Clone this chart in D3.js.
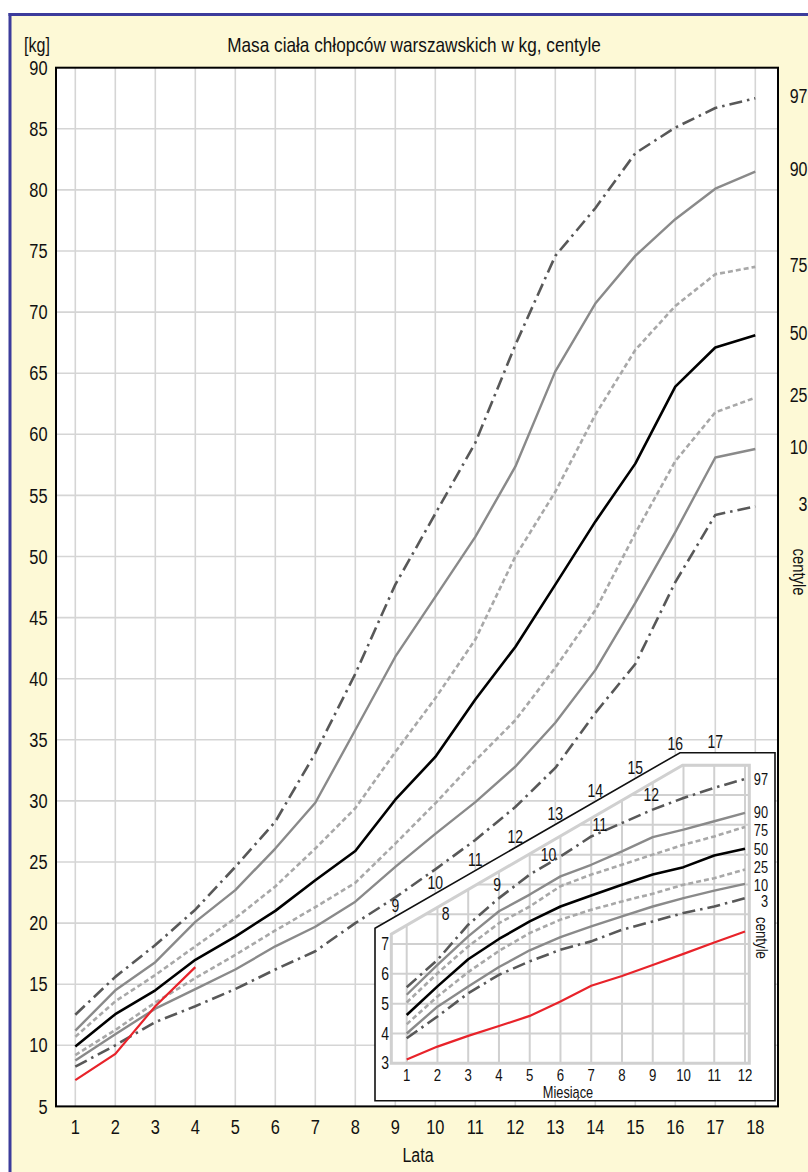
<!DOCTYPE html>
<html><head><meta charset="utf-8">
<script src="https://cdn.jsdelivr.net/npm/d3@7"></script>
<style>
body{margin:0;background:#fff}
svg{display:block}
text{font-family:"Liberation Sans",Arimo,Arial,sans-serif;fill:#111}
</style>
</head><body>
<svg id="c" width="808" height="1172"></svg>
<script>
// ---------- DATA ----------
const years = [1,2,3,4,5,6,7,8,9,10,11,12,13,14,15,16,17,18];
const kgTicks = [5,10,15,20,25,30,35,40,45,50,55,60,65,70,75,80,85,90];
const centileNames = ["97","90","75","50","25","10","3"];
const p97 = [12.5,15.6,18.2,21.1,24.6,28.3,33.9,40.4,47.7,53.5,59.3,67.3,74.6,78.5,83.0,85.1,86.7,87.5];
const p90 = [11.2,14.5,16.8,20.1,22.7,26.1,29.85,35.8,41.8,46.7,51.6,57.35,65.15,70.7,74.6,77.6,80.1,81.5];
const p75 = [10.7,13.6,15.75,18.1,20.4,23.0,26.1,29.4,34.0,38.4,43.2,50.0,55.3,61.6,66.9,70.5,73.1,73.7];
const p50 = [9.9,12.55,14.5,17.0,18.9,21.0,23.5,25.9,30.1,33.6,38.3,42.6,47.7,52.85,57.6,63.9,67.1,68.1];
const p25 = [9.2,11.25,13.5,15.5,17.4,19.4,21.3,23.3,26.5,29.8,33.3,36.6,40.9,45.6,51.9,57.8,61.8,63.0];
const p10 = [8.75,10.9,13.0,14.6,16.2,18.1,19.7,21.75,24.6,27.3,29.9,32.8,36.4,40.7,46.2,52.0,58.1,58.8];
const p3  = [8.25,10.0,11.9,13.2,14.6,16.2,17.7,20.0,22.1,24.4,26.8,29.5,32.7,37.2,41.2,47.9,53.4,54.1];
const patientYears = [1,2,3,4];
const patientKg = [7.15,9.3,13.2,16.4];

const months = [1,2,3,4,5,6,7,8,9,10,11,12];
const m97 = [5.55,6.47,7.65,8.54,9.33,9.94,10.61,11.06,11.51,11.9,12.24,12.54];
const m90 = [5.3,6.3,7.26,8.1,8.66,9.27,9.66,10.11,10.59,10.84,11.12,11.4];
const m75 = [5.04,6.02,6.92,7.7,8.26,8.94,9.33,9.66,10.0,10.33,10.61,10.93];
const m50 = [4.62,5.58,6.49,7.17,7.76,8.26,8.63,8.99,9.33,9.58,9.97,10.2];
const m25 = [4.31,5.24,6.06,6.77,7.37,7.82,8.15,8.43,8.69,8.99,9.21,9.5];
const m10 = [4.0,4.9,5.58,6.23,6.79,7.23,7.59,7.93,8.26,8.54,8.79,9.02];
const m3  = [3.84,4.57,5.35,5.97,6.42,6.81,7.09,7.48,7.76,8.04,8.26,8.54];
const patientMonthKg = [3.13,3.56,3.92,4.25,4.59,5.07,5.6,5.93,6.3,6.67,7.05,7.42];
const insetKgTicks = [3,4,5,6,7];
const insetDiagKg = [8,9,10,11,12];
const diagYears = [9,10,11,12,13,14,15,16,17];

// ---------- STYLES ----------
const styles = {
  "97":{stroke:"#585858",w:2.6,dash:"13,5,2.5,5"},
  "90":{stroke:"#8a8a8a",w:2.4,dash:null},
  "75":{stroke:"#a8a8a8",w:2.6,dash:"5,3"},
  "50":{stroke:"#000",w:2.6,dash:null},
  "25":{stroke:"#a8a8a8",w:2.6,dash:"5,3"},
  "10":{stroke:"#8a8a8a",w:2.4,dash:null},
  "3":{stroke:"#585858",w:2.6,dash:"13,5,2.5,5"}
};
const mainSeries = [p97,p90,p75,p50,p25,p10,p3];
const insetSeries = [m97,m90,m75,m50,m25,m10,m3];
const insetLabelNudge = {"97":1,"90":0,"75":4,"50":1,"25":-2,"10":1.3,"3":3.7};

const svg = d3.select("#c");
function label(sel, xf, yf, tf, size, anchor, rot, sc){
  return sel.attr("transform",(d,i)=>`translate(${xf(d,i)},${yf(d,i)})${rot?` rotate(${rot})`:""} scale(${sc||0.8},1)`)
    .attr("text-anchor",anchor).attr("dominant-baseline","central").attr("font-size",size).text(tf);
}
function one(xv,yv,str,size,anchor,rot,sc){
  return label(svg.append("text").datum(str),()=>xv,()=>yv,d=>d,size,anchor||"middle",rot,sc);
}

svg.append("rect").attr("x",0).attr("y",0).attr("width",808).attr("height",1172).attr("fill","#fff");
svg.append("rect").attr("x",10).attr("y",15).attr("width",798).attr("height",1157).attr("fill","#fdf9d6");
svg.append("line").attr("x1",8.5).attr("x2",808).attr("y1",14.5).attr("y2",14.5).attr("stroke","#3c3c9c").attr("stroke-width",3);
svg.append("line").attr("x1",10).attr("x2",10).attr("y1",13).attr("y2",1172).attr("stroke","#3c3c9c").attr("stroke-width",3);

const L=56, R=778, T=67.7, B=1106.4;
const x = d3.scaleLinear().domain([1,18]).range([75.3,755.3]);
const y = d3.scaleLinear().domain([5,90]).range([B,T]);

svg.append("rect").attr("x",L).attr("y",T).attr("width",R-L).attr("height",B-T).attr("fill","#fff");

const g = svg.append("g");
g.selectAll(".vg").data(years).join("line")
  .attr("x1",d=>x(d)).attr("x2",d=>x(d)).attr("y1",T).attr("y2",B)
  .attr("stroke","#d5d5d5").attr("stroke-width",1.6);
g.selectAll(".hg").data(kgTicks.slice(1,-1)).join("line")
  .attr("y1",d=>y(d)).attr("y2",d=>y(d)).attr("x1",L).attr("x2",R)
  .attr("stroke","#d5d5d5").attr("stroke-width",1.6);

label(svg.append("g").selectAll("text").data(kgTicks).join("text"),()=>47.5,d=>y(d),d=>d,20.5,"end");
label(svg.append("g").selectAll("text").data(years).join("text"),d=>x(d),()=>1127,d=>d,20.5,"middle");
one(418,1155,"Lata",20);
one(37,45,"[kg]",20);
one(414,45,"Masa ciała chłopców warszawskich w kg, centyle",20,"middle",0,0.86);

const line = d3.line().x((d,i)=>x(years[i])).y(d=>y(d));
mainSeries.forEach((s,k)=>{
  const st = styles[centileNames[k]];
  svg.append("path").attr("d",line(s)).attr("fill","none").attr("stroke",st.stroke)
    .attr("stroke-width",st.w).attr("stroke-dasharray",st.dash).attr("stroke-linejoin","round");
});
svg.append("path").attr("d",d3.line().x((d,i)=>x(patientYears[i])).y(d=>y(d))(patientKg))
  .attr("fill","none").attr("stroke","#e8232a").attr("stroke-width",2.2);
const sym = d3.symbol().type(d3.symbolTimes).size(30);
svg.append("g").selectAll("path").data(patientKg).join("path")
  .attr("transform",(d,i)=>`translate(${x(patientYears[i])},${y(d)})`).attr("d",sym())
  .attr("fill","#888");

label(svg.append("g").selectAll("text").data(centileNames).join("text"),()=>807.5,(d,k)=>y(mainSeries[k][17])-2,d=>d,20,"end");
one(799,572,"centyle",18.5,"middle",90);

svg.append("rect").attr("x",L).attr("y",T).attr("width",R-L).attr("height",B-T).attr("fill","none").attr("stroke","#000").attr("stroke-width",2);

// ---------- INSET ----------
const box = {l:375, r:775, t:752.7, b:1100.7, dy:928.3, dx:680};
svg.append("path").attr("d",`M${box.l},${box.b}L${box.l},${box.dy}L${box.dx},${box.t}L${box.r},${box.t}L${box.r},${box.b}Z`)
  .attr("fill","#fff").attr("stroke","#111").attr("stroke-width",1.6);
const xm = d3.scaleLinear().domain([1,12]).range([406.7,745]);
const ym = d3.scaleLinear().domain([3,13]).range([1063.3,765.2]);
const fr = [[xm(0.5),ym(3)],[xm(0.5),ym(7.33)],[xm(9.97),ym(13)],[xm(12.14),ym(13)],[xm(12.14),ym(3)]];
svg.append("clipPath").attr("id","ic").append("path").attr("d","M"+fr.map(p=>p.join(",")).join("L")+"Z");
const ig = svg.append("g").attr("clip-path","url(#ic)");
ig.selectAll(".v").data(months).join("line").attr("x1",d=>xm(d)).attr("x2",d=>xm(d)).attr("y1",ym(3)).attr("y2",ym(13))
  .attr("stroke","#d0d0d0").attr("stroke-width",2);
ig.selectAll(".h").data(d3.range(4,14)).join("line").attr("y1",d=>ym(d)).attr("y2",d=>ym(d)).attr("x1",xm(0.5)).attr("x2",xm(12.14))
  .attr("stroke","#d0d0d0").attr("stroke-width",2);
svg.append("path").attr("d","M"+fr.map(p=>p.join(",")).join("L")+"Z").attr("fill","none").attr("stroke","#d0d0d0").attr("stroke-width",3);

const mline = d3.line().x((d,i)=>xm(months[i])).y(d=>ym(d));
insetSeries.forEach((s,k)=>{
  const st = styles[centileNames[k]];
  svg.append("path").attr("d",mline(s)).attr("fill","none").attr("stroke",st.stroke)
    .attr("stroke-width",st.w).attr("stroke-dasharray",st.dash).attr("stroke-linejoin","round");
});
svg.append("path").attr("d",mline(patientMonthKg)).attr("fill","none").attr("stroke","#e8232a").attr("stroke-width",2.2);

label(svg.append("g").selectAll("text").data(insetKgTicks).join("text"),()=>389,d=>ym(d),d=>d,17.5,"end");
const diagX = v => fr[1][0] + (fr[1][1]-ym(v))*(fr[2][0]-fr[1][0])/(fr[1][1]-fr[2][1]);
label(svg.append("g").selectAll("text").data(insetDiagKg).join("text"),d=>diagX(d)+20,d=>ym(d),d=>d,17.5,"middle");
label(svg.append("g").selectAll("text").data(months).join("text"),d=>xm(d),()=>1074.5,d=>d,16.5,"middle");
one(568,1092,"Miesiące",16);
const outerDiag = px => Math.max(box.t, box.dy - (px-box.l)*(box.dy-box.t)/(box.dx-box.l));
label(svg.append("g").selectAll("text").data(diagYears).join("text"),d=>x(d),d=>outerDiag(x(d))-11,d=>d,17.5,"middle");
label(svg.append("g").selectAll("text").data(centileNames).join("text"),()=>768,(d,k)=>ym(insetSeries[k][11])+insetLabelNudge[d],d=>d,16,"end");
one(762.5,938,"centyle",16.5,"middle",90);
</script>
</body></html>
